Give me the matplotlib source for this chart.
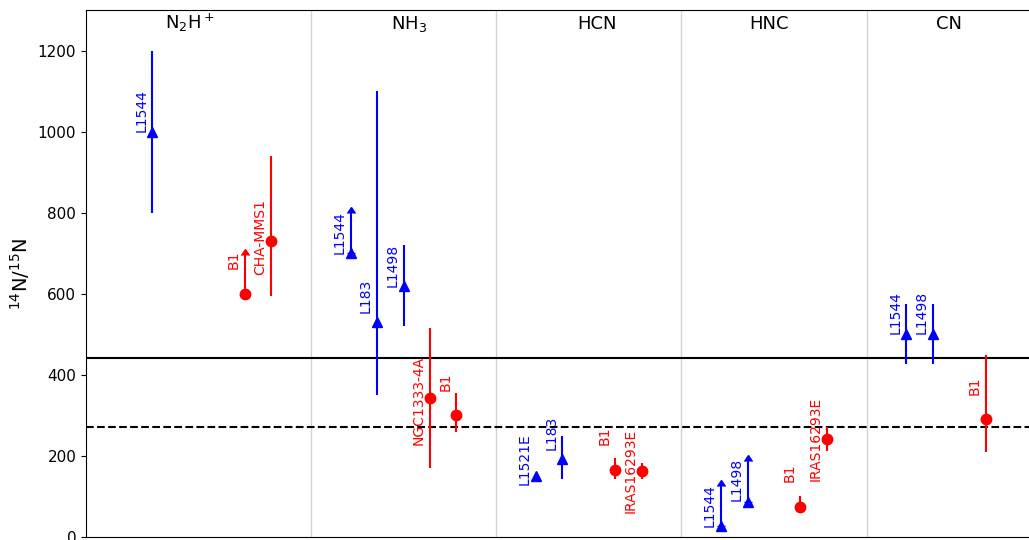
import matplotlib
matplotlib.use("Agg")
import matplotlib.pyplot as plt
import numpy as np

# molecule panels
molecules = ['$\\rm N_2H^+$', '$\\rm NH_3$', 'HCN', 'HNC', 'CN']
mol_x = [3.93, 12.2, 19.3, 25.8, 32.6]
separators = [8.5, 15.5, 22.5, 29.5]

# prestellar cores (blue triangles)
core_names = ['L1544', 'L1544', 'L183', 'L1498', 'L1521E', 'L183',
              'L1544', 'L1498', 'L1544', 'L1498']
core_x = [2.5, 10, 11, 12, 17, 18, 24, 25, 31, 32]
core_val = [1000, 700, 530, 620, 151, 193, 27, 87, 500, 500]
core_lo = [200, 0, 180, 100, 0, 50, 0, 0, 73, 73]
core_hi = [200, 100, 570, 100, 0, 56, 100, 100, 75, 75]
core_lolim = [False, True, False, False, False, False, True, True, False, False]
core_text_y = [1053, 752, 595, 670, 193, 258, 78, 141, 553, 553]

# protostars (red circles)
proto_names = ['B1', 'CHA-MMS1', 'NGC1333-4A', 'B1', 'B1', 'IRAS16293E',
               'B1', 'IRAS16293E', 'B1']
proto_x = [6, 7, 13, 14, 20, 21, 27, 28, 34]
proto_val = [600, 730, 344, 300, 165, 163, 75, 242, 290]
proto_lo = [0, 135, 174, 40, 22, 19, 10, 30, 80]
proto_hi = [95, 210, 172, 55, 30, 20, 25, 30, 160]
proto_lolim = [True, False, False, False, False, False, False, False, False]
proto_text_y = [684, 740, 337, 384, 249, 162, 158, 241, 374]

protosolar = 441
terrestrial = 272

fig = plt.figure(figsize=(10.29, 5.40), dpi=100)
ax = fig.add_axes([86 / 1029, 3 / 540, 952.6 / 1029, 527 / 540])

for s in separators:
    ax.axvline(s, color='lightgray', lw=1, zorder=0)
ax.axhline(protosolar, color='k', lw=1.5, zorder=1)
ax.axhline(terrestrial, color='k', lw=1.5, ls='--', zorder=1)


def draw_group(xs, vals, lo, hi, lolim, names, text_y, color, marker):
    for i in range(len(xs)):
        ax.errorbar(xs[i], vals[i], yerr=[[lo[i]], [hi[i]]], lolims=lolim[i],
                    fmt=marker, color=color, ms=7.5, elinewidth=1.5,
                    capsize=3 if lolim[i] else 0, zorder=3)
        ax.text(xs[i] - 0.15, text_y[i], names[i], rotation=90, color=color,
                ha='right', va='center', fontsize=10)


draw_group(core_x, core_val, core_lo, core_hi, core_lolim, core_names,
           core_text_y, 'blue', '^')
draw_group(proto_x, proto_val, proto_lo, proto_hi, proto_lolim, proto_names,
           proto_text_y, 'red', 'o')

for name, x in zip(molecules, mol_x):
    ax.text(x, 1254, name, ha='center', va='baseline', fontsize=13)

ax.set_xlim(0, 36)
ax.set_ylim(0, 1300)
ax.set_xticks([])
ax.set_yticks(np.arange(0, 1300, 200))
ax.tick_params(axis='y', labelsize=11)
ax.set_ylabel('$^{14}$N/$^{15}$N', fontsize=14)

plt.savefig('out.png', dpi=100)
